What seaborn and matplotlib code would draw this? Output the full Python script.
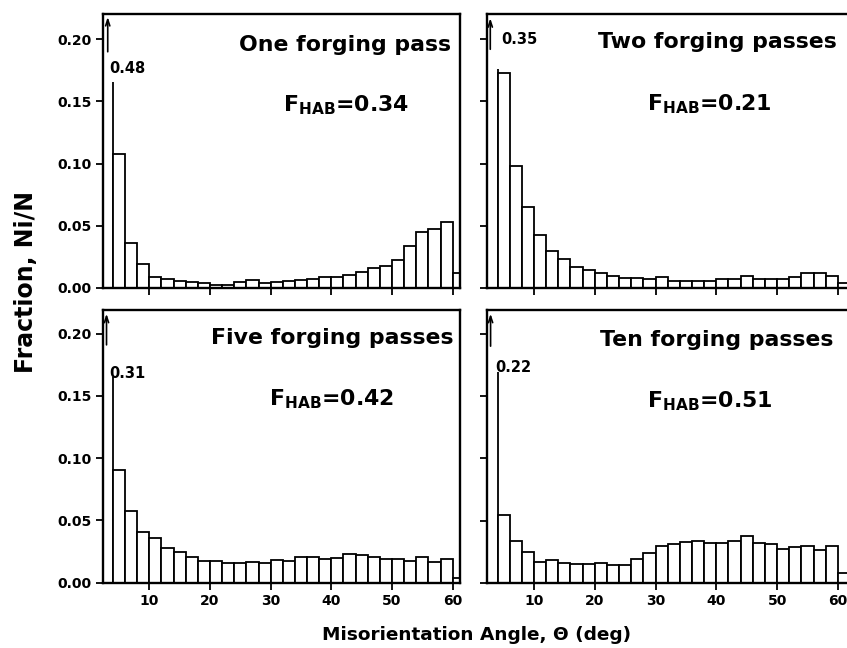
import numpy as np
import pandas as pd
import matplotlib
matplotlib.use("Agg")
import matplotlib.pyplot as plt
import seaborn as sns
from matplotlib.transforms import Bbox, TransformedBbox

# ---- data: 2-degree misorientation bins from 2 to 62 deg ----
bin_edges = np.arange(2, 64, 2)
bin_centers = bin_edges[:-1] + 1

one_pass = [0.48, 0.1076, 0.0362, 0.0188, 0.0089, 0.0067, 0.0054, 0.0048, 0.0035, 0.0021,
            0.0021, 0.0043, 0.0062, 0.0035, 0.0048, 0.0054, 0.0062, 0.0070, 0.0083, 0.0083,
            0.0102, 0.0129, 0.0156, 0.0175, 0.0223, 0.0336, 0.0451, 0.0470, 0.0532, 0.0121]
two_passes = [0.35, 0.1726, 0.0982, 0.0652, 0.0421, 0.0298, 0.0231, 0.0169, 0.0142, 0.0115,
              0.0094, 0.0075, 0.0075, 0.0067, 0.0089, 0.0054, 0.0054, 0.0054, 0.0054, 0.0067,
              0.0067, 0.0094, 0.0067, 0.0072, 0.0072, 0.0089, 0.0115, 0.0120, 0.0094, 0.0035]
five_passes = [0.31, 0.0904, 0.0575, 0.0404, 0.0361, 0.0281, 0.0249, 0.0209, 0.0174, 0.0174,
               0.0155, 0.0155, 0.0168, 0.0155, 0.0182, 0.0176, 0.0203, 0.0209, 0.0187, 0.0195,
               0.0230, 0.0222, 0.0203, 0.0187, 0.0187, 0.0174, 0.0203, 0.0163, 0.0187, 0.0040]
ten_passes = [0.22, 0.0546, 0.0336, 0.0251, 0.0170, 0.0184, 0.0162, 0.0149, 0.0149, 0.0157,
              0.0143, 0.0143, 0.0189, 0.0237, 0.0296, 0.0310, 0.0331, 0.0336, 0.0318, 0.0323,
              0.0339, 0.0379, 0.0318, 0.0310, 0.0272, 0.0286, 0.0299, 0.0264, 0.0299, 0.0082]

titles = ["One forging pass", "Two forging passes", "Five forging passes", "Ten forging passes"]
f_hab = ["0.34", "0.21", "0.42", "0.51"]
first_labels = ["0.48", "0.35", "0.31", "0.22"]
series = [one_pass, two_passes, five_passes, ten_passes]

x_ticks = [10, 20, 30, 40, 50, 60]
y_ticks = [0.00, 0.05, 0.10, 0.15, 0.20]

# ---- style ----
sns.set_style("ticks")
plt.rcParams["font.family"] = ["DejaVu Sans"]
plt.rcParams["font.weight"] = "bold"
plt.rcParams["mathtext.fontset"] = "dejavusans"
plt.rcParams["text.color"] = "black"
plt.rcParams["axes.labelcolor"] = "black"
plt.rcParams["xtick.color"] = "black"
plt.rcParams["ytick.color"] = "black"

W, H = 847, 648
fig = plt.figure(figsize=(W / 100, H / 100), dpi=100)

def px_axes(left, right, top, bottom):
    return fig.add_axes([left / W, 1 - bottom / H, (right - left) / W, (bottom - top) / H])

axes = [
    px_axes(103, 460, 14, 287.7),
    px_axes(487, 850, 14, 287.7),
    px_axes(103, 460, 310, 582.7),
    px_axes(487, 850, 310, 583),
]
xlims = [(2.37, 61.2), (2.26, 62.0), (2.37, 61.2), (2.26, 62.0)]
ylims = [(0, 0.2204), (0, 0.2204), (0, 0.219), (0, 0.219)]

# per-panel annotation layout (data coordinates)
break_h = [0.1655, 0.176, 0.1655, 0.169]
label_xy = [(3.35, 0.1765), (4.6, 0.200), (3.35, 0.168), (3.6, 0.173)]
arrow_x = [3.15, 2.8, 2.95, 2.85]
arrow_y = [(0.190, 0.218), (0.192, 0.217), (0.191, 0.216), (0.190, 0.216)]
title_xy = [(42.2, 0.1954), (40.1, 0.1978), (40.1, 0.1965), (40.05, 0.1946)]
fhab_xy = [(42.5, 0.1417), (38.8, 0.143), (40.0, 0.1427), (39.0, 0.141)]

for i, ax in enumerate(axes):
    df = pd.DataFrame({"angle": bin_centers, "fraction": series[i]})
    sns.histplot(data=df, x="angle", weights="fraction", bins=list(bin_edges), ax=ax,
                 color="white", edgecolor="black", linewidth=1.3, alpha=1.0)
    ax.set_xlim(*xlims[i])
    ax.set_ylim(*ylims[i])
    ax.set_xlabel("")
    ax.set_ylabel("")
    ax.set_xticks(x_ticks)
    ax.set_yticks(y_ticks)
    ax.set_yticklabels([f"{v:.2f}" for v in y_ticks])
    ax.tick_params(direction="out", length=5, width=1.3, labelsize=10, pad=3,
                   colors="black", labelcolor="black")
    for s in ax.spines.values():
        s.set_visible(True)
        s.set_linewidth(1.7)
        s.set_color("black")
    if i < 2:
        ax.tick_params(labelbottom=False)
    if i % 2 == 1:
        ax.tick_params(labelleft=False)

    # broken first (off-scale) bar
    first = ax.patches[0]
    first.set_clip_box(TransformedBbox(Bbox([[xlims[i][0], 0], [5, break_h[i]]]), ax.transData))

    ax.text(label_xy[i][0], label_xy[i][1], first_labels[i], ha="left", va="center",
            fontsize=10.5, fontweight="bold", color="black")
    ax.annotate("", xy=(arrow_x[i], arrow_y[i][1]), xytext=(arrow_x[i], arrow_y[i][0]),
                arrowprops=dict(arrowstyle="->,head_length=0.45,head_width=0.15",
                                lw=1.2, color="black", shrinkA=0, shrinkB=0))

    ax.text(title_xy[i][0], title_xy[i][1], titles[i], ha="center", va="center",
            fontsize=15.8, fontweight="bold", color="black")
    ax.text(fhab_xy[i][0], fhab_xy[i][1], r"$\mathbf{F_{HAB}}$=" + f_hab[i],
            ha="center", va="baseline", fontsize=15.8, fontweight="bold", color="black")

fig.text(26 / W, 1 - 282 / H, "Fraction, Ni/N", rotation=90, ha="center", va="center",
         fontsize=17, fontweight="bold", color="black")
fig.text(477 / W, 1 - 635 / H, "Misorientation Angle, \u0398 (deg)", ha="center", va="center",
         fontsize=13.3, fontweight="bold", color="black")

fig.savefig("out.png", dpi=100)
